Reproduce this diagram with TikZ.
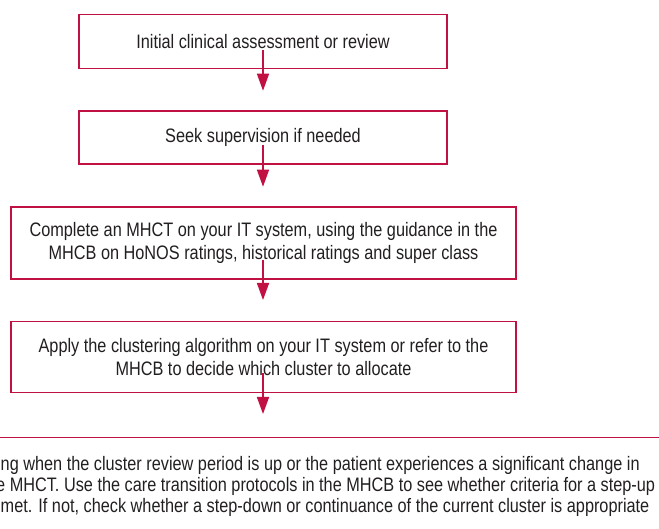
\documentclass[tikz,border=0pt]{standalone}
\usepackage{fontspec}
\setmainfont[FakeStretch=0.835]{Liberation Sans}
\usetikzlibrary{arrows.meta}
\definecolor{crim}{RGB}{193,16,66}
\definecolor{txt}{RGB}{35,31,32}
\tikzset{
  stepbox/.style={draw=crim, line width=1.1pt, fill=white, text=txt, align=center,
    font=\fontsize{19.5}{23.5}\selectfont, inner sep=0pt},
  arr/.style={draw=crim, line width=1.6pt, -{Triangle[length=17pt,width=12pt]}},
  para/.style={text=txt, font=\fontsize{19.5}{20.8}\selectfont, inner sep=0pt, anchor=base west}
}
\begin{document}
\begin{tikzpicture}[x=1pt,y=-1pt]
\useasboundingbox (0,0) rectangle (659,529);
\clip (0,0) rectangle (659,529);
\node[stepbox, minimum width=368pt, minimum height=54pt] (b1) at (263,41.2) {Initial clinical assessment or review};
\node[stepbox, minimum width=368pt, minimum height=53pt] (b2) at (263,137.5) {Seek supervision if needed};
\node[stepbox, minimum width=505pt, minimum height=72pt] (b3) at (263.5,243) {Complete an MHCT on your IT system, using the guidance in the\\MHCB on HoNOS ratings, historical ratings and super class};
\node[stepbox, minimum width=505pt, minimum height=71pt] (b4) at (263.5,357) {Apply the clustering algorithm on your IT system or refer to the\\MHCB to decide which cluster to allocate};
\node[draw=crim, line width=1.3pt, minimum width=680pt, minimum height=130pt, anchor=north, inner sep=0pt] (b5) at (329.5,436.7) {};
\node[para] (l1) at (0.5,470.7) {ng when the cluster review period is up or the patient experiences a significant change in};
\node[para] (l2) at (-4,491.7) {e MHCT. Use the care transition protocols in the MHCB to see whether criteria for a step-up};
\node[para] (l3) at (0.5,512.3) {met. If not, check whether a step-down or continuance of the current cluster is appropriate};
\coordinate (s1) at (263,50);
\coordinate (t1) at (263,90.7);
\coordinate (s2) at (263,145);
\coordinate (t2) at (263,186.7);
\coordinate (s3) at (263,260);
\coordinate (t3) at (263,300);
\coordinate (s4) at (263,373);
\coordinate (t4) at (263,414);
\draw[arr] (s1) -- (t1);
\draw[arr] (s2) -- (t2);
\draw[arr] (s3) -- (t3);
\draw[arr] (s4) -- (t4);
\end{tikzpicture}
\end{document}
